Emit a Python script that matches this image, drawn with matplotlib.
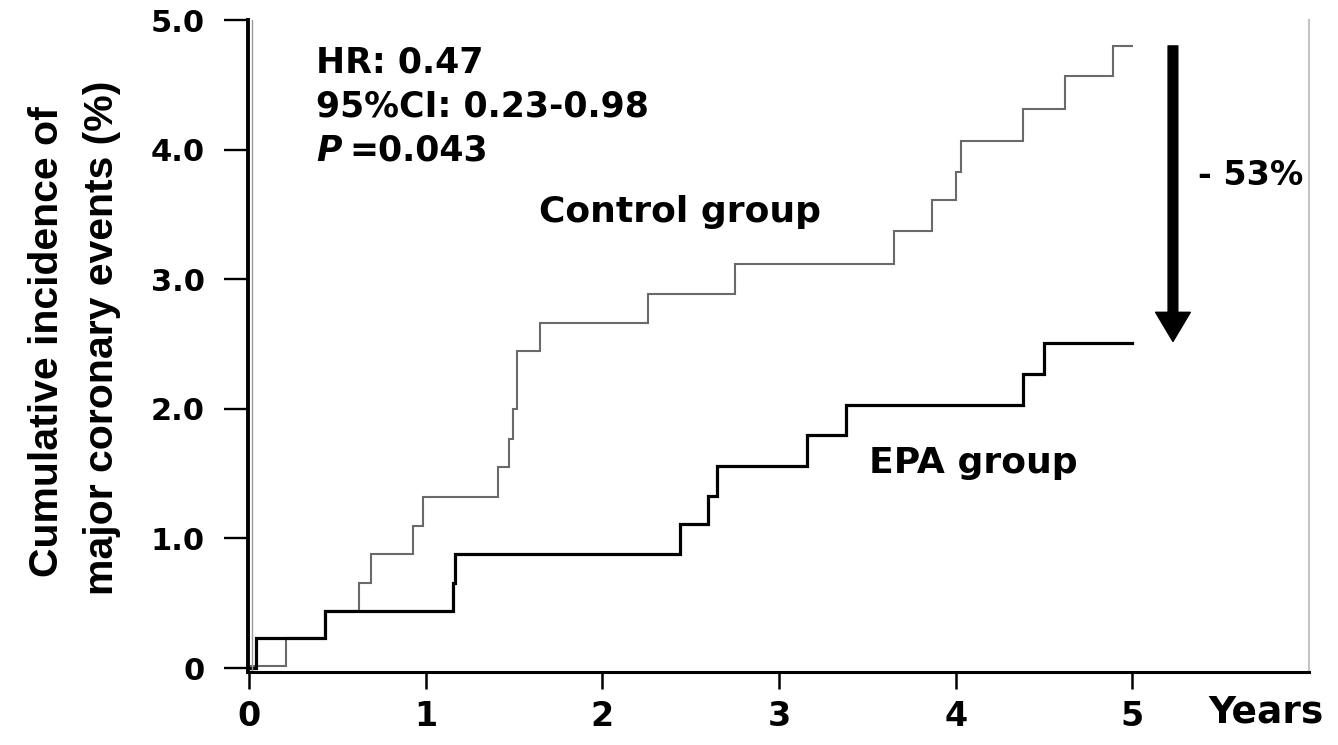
import matplotlib
matplotlib.use("Agg")
import matplotlib.pyplot as plt

# step data (years, cumulative %)
ctrl_t = [0, 0.21, 0.43, 0.625, 0.69, 0.93, 0.985, 1.41, 1.475, 1.495, 1.52, 1.645,
          2.26, 2.75, 3.65, 3.865, 4.0, 4.03, 4.38, 4.62, 4.89, 5.0]
ctrl_y = [0.02, 0.23, 0.44, 0.66, 0.88, 1.10, 1.32, 1.55, 1.77, 2.00, 2.45, 2.66,
          2.89, 3.12, 3.37, 3.61, 3.83, 4.07, 4.31, 4.57, 4.80, 4.80]

epa_t = [0, 0.04, 0.43, 1.155, 1.165, 2.44, 2.60, 2.65, 3.16, 3.38, 4.38, 4.50, 5.0]
epa_y = [0, 0.23, 0.44, 0.66, 0.88, 1.11, 1.33, 1.56, 1.80, 2.03, 2.27, 2.51, 2.51]

x_ticks = [0, 1, 2, 3, 4, 5]
y_ticks = [0, 1, 2, 3, 4, 5]
y_ticklabels = ['0', '1.0', '2.0', '3.0', '4.0', '5.0']

stats_lines = ['HR: 0.47', '95%CI: 0.23-0.98']
p_value = '=0.043'
reduction = '- 53%'
ylabel_lines = ['Cumulative incidence of', 'major coronary events (%)']

plt.rcParams['font.family'] = ['DejaVu Sans']
plt.rcParams['font.weight'] = 'bold'

fig = plt.figure(figsize=(13.38, 7.45), dpi=100)
ax = fig.add_axes([248/1338, 1-672/745, (1309-248)/1338, (672-20)/745])

ax.plot(ctrl_t, ctrl_y, drawstyle='steps-post', color='#6a6a6a', lw=1.5, solid_joinstyle='miter')
ax.plot(epa_t, epa_y, drawstyle='steps-post', color='black', lw=2.3, solid_joinstyle='miter')
ax.axvline(0.02, color='#9a9a9a', lw=1.0)

ax.set_xlim(-0.005, 6.0)
ax.set_ylim(-0.03, 5.0)

ax.spines['top'].set_visible(False)
ax.spines['right'].set_color('#c4c4c4')
ax.spines['right'].set_linewidth(1.5)
ax.spines['left'].set_linewidth(2.8)
ax.spines['bottom'].set_linewidth(2.2)

ax.set_xticks(x_ticks)
ax.set_xticklabels([str(v) for v in x_ticks], fontsize=24, fontweight='bold')
ax.set_yticks(y_ticks)
ax.set_yticklabels(y_ticklabels, fontsize=22, fontweight='bold')
ax.tick_params(axis='y', length=17, width=1.7, pad=14, direction='out')
ax.tick_params(axis='x', length=12, width=1.8, pad=8, direction='out')

ax.text(5.755, -0.2, 'Years', fontsize=27, fontweight='bold', ha='center', va='top', clip_on=False)

# statistics block
ax.text(0.38, 4.67, stats_lines[0], fontsize=25, fontweight='bold', va='center')
ax.text(0.38, 4.33, stats_lines[1], fontsize=25, fontweight='bold', va='center')
p_txt = ax.text(0.38, 3.99, 'P', fontsize=25, fontweight='bold', style='italic', va='center')
ax.annotate(p_value, xy=(1, 0), xycoords=p_txt, xytext=(6, 0), textcoords='offset points',
            fontsize=25, fontweight='bold', ha='left', va='bottom')

ax.text(2.44, 3.52, 'Control group', fontsize=26, fontweight='bold', ha='center', va='center')
ax.text(4.10, 1.58, 'EPA group', fontsize=26, fontweight='bold', ha='center', va='center')

# reduction arrow
ax.annotate('', xy=(5.23, 2.52), xytext=(5.23, 4.80),
            arrowprops=dict(width=7, headwidth=25, headlength=21, shrink=0, color='black'))
ax.text(5.37, 3.80, reduction, fontsize=24, fontweight='bold', ha='left', va='center')

# y label: two rotated lines in Liberation Sans, sized to the reference length
lab1 = fig.text(47/1338, 1-342/745, ylabel_lines[0], rotation=90, ha='center', va='center',
                family='Liberation Sans', fontweight='bold', fontsize=30)
lab2 = fig.text(102/1338, 1-338/745, ylabel_lines[1], rotation=90, ha='center', va='center',
                family='Liberation Sans', fontweight='bold', fontsize=30)
fig.canvas.draw()
h2 = lab2.get_window_extent().height
size = 30 * 515 / h2
lab1.set_fontsize(size)
lab2.set_fontsize(size)

fig.savefig('out.png', dpi=100, facecolor='white')
